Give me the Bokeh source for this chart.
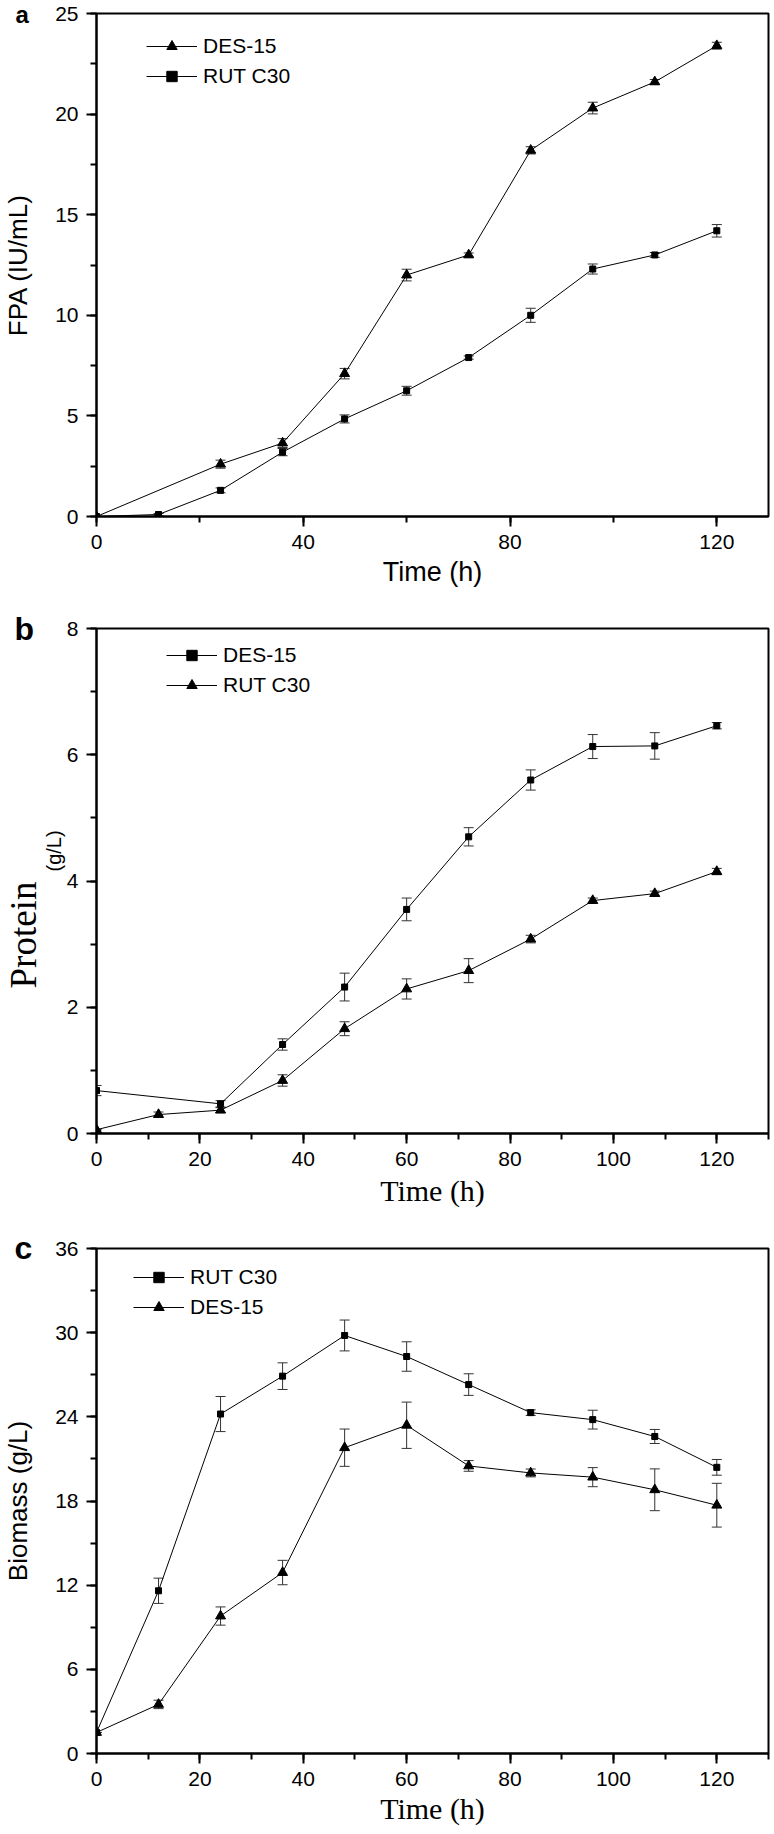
from bokeh.plotting import figure
from bokeh.models import (ColumnDataSource, Whisker, TeeHead, Legend, LegendItem, Title,
                          SingleIntervalTicker, Range1d)
from bokeh.layouts import column
from bokeh.embed import file_html
from bokeh.resources import INLINE

# ---------------- data ----------------
# Panel a: FPA (IU/mL)
a_des_t = [0, 24, 36, 48, 60, 72, 84, 96, 108, 120]
a_des_val = [0.0, 2.6, 3.65, 7.1, 12.0, 13.0, 18.2, 20.3, 21.6, 23.4]
a_des_err = [0.0, 0.2, 0.22, 0.26, 0.29, 0.1, 0.18, 0.29, 0.12, 0.17]
a_rut_t = [0, 12, 24, 36, 48, 60, 72, 84, 96, 108, 120]
a_rut_val = [0.0, 0.1, 1.3, 3.2, 4.85, 6.25, 7.9, 10.0, 12.3, 13.0, 14.2]
a_rut_err = [0.0, 0.05, 0.12, 0.18, 0.2, 0.22, 0.08, 0.35, 0.25, 0.12, 0.31]

# Panel b: Protein (g/L)
b_des_t = [0, 24, 36, 48, 60, 72, 84, 96, 108, 120]
b_des_val = [0.68, 0.47, 1.41, 2.32, 3.55, 4.70, 5.60, 6.13, 6.14, 6.46]
b_des_err = [0.08, 0.05, 0.09, 0.22, 0.18, 0.145, 0.16, 0.19, 0.21, 0.05]
b_rut_t = [0, 12, 24, 36, 48, 60, 72, 84, 96, 108, 120]
b_rut_val = [0.06, 0.30, 0.37, 0.84, 1.66, 2.29, 2.58, 3.08, 3.69, 3.80, 4.15]
b_rut_err = [0.0, 0.04, 0.04, 0.09, 0.11, 0.16, 0.19, 0.06, 0.04, 0.04, 0.05]

# Panel c: Biomass (g/L)
c_t = [0, 12, 24, 36, 48, 60, 72, 84, 96, 108, 120]
c_rut_val = [1.5, 11.6, 24.2, 26.9, 29.8, 28.3, 26.3, 24.3, 23.8, 22.6, 20.4]
c_rut_err = [0.0, 0.9, 1.25, 0.95, 1.1, 1.05, 0.77, 0.2, 0.67, 0.5, 0.56]
c_des_val = [1.5, 3.5, 9.8, 12.9, 21.8, 23.4, 20.5, 20.0, 19.7, 18.8, 17.7]
c_des_err = [0.0, 0.3, 0.65, 0.87, 1.33, 1.65, 0.38, 0.28, 0.68, 1.49, 1.56]

x_range_all = (0, 130)

SANS = "Liberation Sans"
SERIF = "Liberation Serif"
W = 774
BL = 92
BR = 6


def make_fig(height, bt, bb, yr, xint, yint):
    p = figure(width=W, height=height, x_range=Range1d(*x_range_all), y_range=Range1d(*yr),
               output_backend="svg", toolbar_location=None, title=None,
               min_border_left=BL, min_border_right=BR, min_border_top=bt, min_border_bottom=bb)
    p.grid.visible = False
    p.outline_line_color = "black"
    p.outline_line_width = 2
    p.outline_line_alpha = 1
    p.background_fill_color = "white"
    p.border_fill_color = "white"
    p.xaxis.ticker = SingleIntervalTicker(interval=xint, num_minor_ticks=2)
    p.yaxis.ticker = SingleIntervalTicker(interval=yint, num_minor_ticks=2)
    for ax in p.axis:
        ax.axis_line_width = 2
        ax.axis_line_color = "black"
        ax.major_tick_line_width = 2
        ax.minor_tick_line_width = 2
        ax.major_tick_line_color = "black"
        ax.minor_tick_line_color = "black"
        ax.major_tick_out = 10
        ax.major_tick_in = 0
        ax.minor_tick_out = 6
        ax.minor_tick_in = 0
        ax.major_label_text_font = SANS
        ax.major_label_text_font_size = "21px"
        ax.major_label_text_color = "black"
        ax.major_label_standoff = 8
        ax.axis_label_text_color = "black"
        ax.axis_label_text_font_style = "normal"
    return p


def series(p, t, v, e, marker, size):
    src = ColumnDataSource(dict(t=t, v=v, lo=[a - b for a, b in zip(v, e)],
                                hi=[a + b for a, b in zip(v, e)]))
    w = Whisker(source=src, base="t", lower="lo", upper="hi", dimension="height",
                line_color="#333333", line_width=1,
                lower_head=TeeHead(size=10, line_color="#333333", line_width=1),
                upper_head=TeeHead(size=10, line_color="#333333", line_width=1))
    p.add_layout(w)
    ln = p.line("t", "v", source=src, line_color="black", line_width=1)
    sc = p.scatter("t", "v", source=src, marker=marker, size=size,
                   fill_color="black", line_color="black")
    return [ln, sc]


def legend(p, items, loc):
    lg = Legend(items=[LegendItem(label=l, renderers=r) for l, r in items], location=loc,
                label_text_font=SANS, label_text_font_size="21px", label_text_color="black",
                glyph_width=51, glyph_height=26, label_height=26, label_standoff=6,
                spacing=4, padding=0, margin=0, border_line_alpha=0, background_fill_alpha=0)
    p.add_layout(lg)


def letter(p, txt, size, offset, standoff):
    p.add_layout(Title(text=txt, text_font=SANS, text_font_size=size, text_font_style="bold",
                       text_color="black", align="left", vertical_align="bottom",
                       offset=offset, standoff=standoff), "above")


# ---------------- panel a ----------------
pa = make_fig(600, 13, 84, (0, 25), 40, 5)
ra_des = series(pa, a_des_t, a_des_val, a_des_err, "triangle", 10)
ra_rut = series(pa, a_rut_t, a_rut_val, a_rut_err, "square", 6)
legend(pa, [("DES-15", ra_des), ("RUT C30", ra_rut)], (50, 427))
letter(pa, "a", "24px", -81, -28)
pa.xaxis.axis_label = "Time (h)"
pa.xaxis.axis_label_text_font = SANS
pa.xaxis.axis_label_text_font_size = "27px"
pa.xaxis.axis_label_standoff = 5
pa.yaxis.axis_label = "FPA (IU/mL)"
pa.yaxis.axis_label_text_font = SANS
pa.yaxis.axis_label_text_font_size = "26px"
pa.yaxis.axis_label_standoff = 19

# ---------------- panel b ----------------
pb = make_fig(622, 28, 89, (0, 8), 20, 2)
rb_des = series(pb, b_des_t, b_des_val, b_des_err, "square", 6)
rb_rut = series(pb, b_rut_t, b_rut_val, b_rut_err, "triangle", 10)
legend(pb, [("DES-15", rb_des), ("RUT C30", rb_rut)], (70, 435))
letter(pb, "b", "32px", -82, -37)
pb.xaxis.axis_label = "Time (h)"
pb.xaxis.axis_label_text_font = SERIF
pb.xaxis.axis_label_text_font_size = "30px"
pb.xaxis.axis_label_standoff = 5
pb.add_layout(Title(text="(g/L)", text_font=SANS, text_font_size="20px", text_font_style="normal",
                    text_color="black", align="left", vertical_align="bottom",
                    offset=262, standoff=-2), "left")
pb.add_layout(Title(text="Protein", text_font=SERIF, text_font_size="37px", text_font_style="normal",
                    text_color="black", align="left", vertical_align="bottom",
                    offset=145, standoff=-4), "left")

# ---------------- panel c ----------------
pc = make_fig(612, 26, 81, (0, 36), 20, 6)
rc_rut = series(pc, c_t, c_rut_val, c_rut_err, "square", 6)
rc_des = series(pc, c_t, c_des_val, c_des_err, "triangle", 10)
legend(pc, [("RUT C30", rc_rut), ("DES-15", rc_des)], (37, 433))
letter(pc, "c", "32px", -82, -34)
pc.xaxis.axis_label = "Time (h)"
pc.xaxis.axis_label_text_font = SERIF
pc.xaxis.axis_label_text_font_size = "30px"
pc.xaxis.axis_label_standoff = 3
pc.yaxis.axis_label = "Biomass (g/L)"
pc.yaxis.axis_label_text_font = SANS
pc.yaxis.axis_label_text_font_size = "26px"
pc.yaxis.axis_label_standoff = 19

layout = column(pa, pb, pc, spacing=0)
open("out.html", "w").write(file_html(layout, INLINE))
